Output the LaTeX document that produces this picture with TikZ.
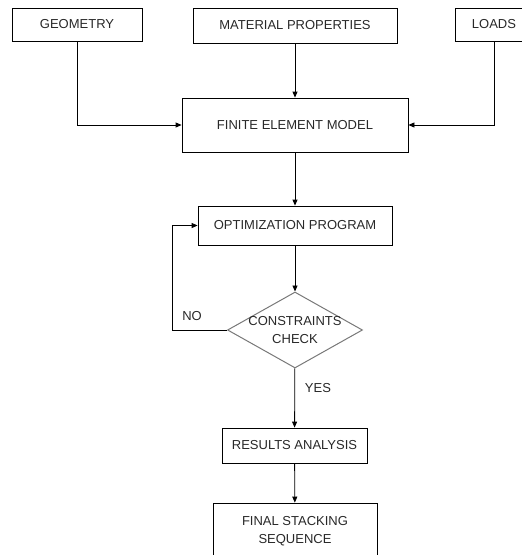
\documentclass[tikz,border=0pt]{standalone}
\usepackage{fontspec}
\setmainfont{Liberation Sans}
\usetikzlibrary{arrows.meta,positioning,shapes.geometric}
\definecolor{edgegray}{RGB}{120,120,120}
\definecolor{inkgray}{RGB}{40,40,40}

\begin{document}
\begin{tikzpicture}[
  x=1pt, y=-1pt,
  font=\fontsize{13}{18}\selectfont, text=inkgray,
  box/.style={draw=black, line width=0.8pt, align=center, inner sep=0pt},
  check/.style={diamond, draw=edgegray, line width=1pt, align=center, inner sep=0pt, minimum width=135pt, minimum height=76pt},
  lbl/.style={inner sep=0pt},
  arrow/.style={-{Triangle[length=6pt,width=5pt]}, line width=0.8pt}
]
\useasboundingbox (0,0) rectangle (522,555);

\node[box, minimum width=130pt, minimum height=33pt] (geom) at (77,24.5) {GEOMETRY};
\node[box, minimum width=204pt, minimum height=35pt] (mat) at (295,25.5) {MATERIAL PROPERTIES};
\node[box, minimum width=78pt, minimum height=33pt] (loads) at (494,24.5) {LOADS};
\node[box, minimum width=226pt, minimum height=54pt] (fem) at (295,125) {FINITE ELEMENT MODEL};
\node[box, minimum width=194pt, minimum height=39pt] (opt) at (295,225.5) {OPTIMIZATION PROGRAM};
\node[check] (check) at (295,330) {\makebox[0pt]{CONSTRAINTS}\\\makebox[0pt]{CHECK}};
\node[box, minimum width=145pt, minimum height=35pt] (res) at (294.5,445.5) {RESULTS ANALYSIS};
\node[box, minimum width=164pt, minimum height=56pt] (final) at (295,531) {FINAL STACKING\\SEQUENCE};

\coordinate (back) at (172,330);
\node[lbl] (no) at (192,316) {NO};
\node[lbl] (yes) at (318,388) {YES};

\draw[arrow] (geom.south) |- (fem.west);
\draw[arrow] (mat) -- (fem);
\draw[arrow] (loads.south) |- (fem.east);
\draw[arrow] (fem) -- (opt);
\draw[arrow] (opt) -- (check);
\draw[arrow] (check.west) -- (back) |- (opt.west);
\draw[arrow] (check) -- (res);
\draw[arrow] (res) -- (final);
\end{tikzpicture}
\end{document}
